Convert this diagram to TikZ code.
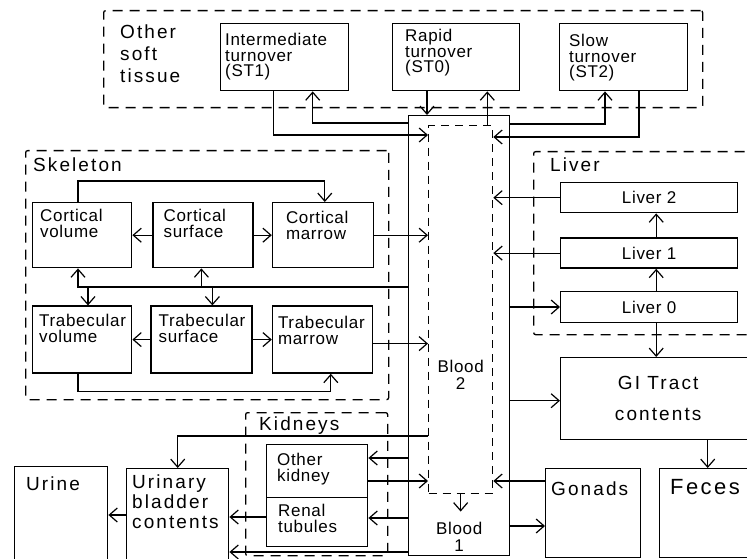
\documentclass[tikz,border=0pt]{standalone}
\usepackage{fontspec}
\setmainfont{Liberation Sans}
\newfontfamily\widefont[LetterSpace=11]{Liberation Sans}
\newfontfamily\boxfont[LetterSpace=4]{Liberation Sans}
\usetikzlibrary{arrows.meta, positioning, calc}
\tikzset{
  % solid compartment box
  comp/.style={
    rectangle, draw, line width=1.4pt, anchor=north west,
    inner sep=0pt, font=\boxfont\fontsize{17}{15.5}\selectfont
  },
  % dashed outline round a group of compartments
  group/.style={
    rectangle, draw, line width=1.3pt, dash pattern=on 10pt off 7pt,
    rounded corners=2pt, anchor=north west, inner sep=0pt
  },
  % text in the top left corner of a box
  corner/.style={
    anchor=north west, inner sep=0pt, align=left,
    xshift=8pt, yshift=-8pt, font=\boxfont\fontsize{17}{15.5}\selectfont
  },
  % large titles
  title/.style={
    anchor=north west, inner sep=0pt, align=left,
    font=\widefont\fontsize{19}{22}\selectfont
  },
  % blood labels
  btext/.style={
    inner sep=0pt, align=center, font=\boxfont\fontsize{17}{17}\selectfont
  },
  % transfer between compartments
  flow/.style={
    -{Straight Barb[length=8pt, width=14pt, line width=1.2pt]}, line width=1.2pt
  }
}

\begin{document}
\begin{tikzpicture}[x=1pt, y=-1pt]
  \useasboundingbox (0,0) rectangle (747,559);
  \fill[white] (0,0) rectangle (747,559);
  \clip (0,0) rectangle (747,559);

  % ── Other soft tissue ──────────────────────────────────────────
  \node[group, minimum width=599, minimum height=97] (ost) at (103,10) {};
  \node[title] (ostlbl) at ($(ost.north west)+(17,15)$) {Other\\soft\\tissue};
  \node[comp, minimum width=128, minimum height=67,
        label={[corner, xshift=-3pt, yshift=-2pt]north west:{Intermediate\\turnover\\(ST1)}}]
        (st1) at (220,23) {};
  \node[comp, minimum width=127, minimum height=67,
        label={[corner, xshift=5pt, yshift=2pt]north west:{Rapid\\turnover\\(ST0)}}]
        (st0) at (392,23) {};
  \node[comp, minimum width=128, minimum height=67,
        label={[corner, xshift=2pt, yshift=-3pt]north west:{Slow\\turnover\\(ST2)}}]
        (st2) at (559,23) {};

  % ── Blood ──────────────────────────────────────────────────────
  \node[comp, minimum width=101, minimum height=440] (blood) at (408,115) {};
  \node[comp, line width=1.3pt, dash pattern=on 8pt off 6pt, minimum width=64, minimum height=368]
        (b2) at (428,125) {};
  \node[btext] (b2lbl) at ($(b2.center)+(0,65)$) {Blood\\2};
  \node[btext] (b1lbl) at ($(blood.south)+(0,-20)$) {Blood\\1};

  % ── Skeleton ───────────────────────────────────────────────────
  \node[group, minimum width=363, minimum height=249] (skel) at (25,150) {};
  \node[title] (skellbl) at ($(skel.north west)+(8,8)$) {Skeleton};
  \node[comp, minimum width=99, minimum height=65,
        label={[corner, yshift=1pt]north west:{Cortical\\volume}}] (cv) at (32,202) {};
  \node[comp, minimum width=100, minimum height=65, right=20pt of cv,
        label={[corner, xshift=3pt, yshift=1pt]north west:{Cortical\\surface}}] (cs) {};
  \node[comp, minimum width=101, minimum height=65, right=18pt of cs,
        label={[corner, xshift=6pt, yshift=-1pt]north west:{Cortical\\marrow}}] (cm) {};
  \node[comp, minimum width=99, minimum height=67, below=37pt of cv,
        label={[corner, xshift=-1pt, yshift=-1pt]north west:{Trabecular\\volume}}] (tv) {};
  \node[comp, minimum width=101, minimum height=67, right=18pt of tv,
        label={[corner, yshift=-1pt]north west:{Trabecular\\surface}}] (ts) {};
  \node[comp, minimum width=100, minimum height=67, right=19pt of ts,
        label={[corner, xshift=-2pt, yshift=-3pt]north west:{Trabecular\\marrow}}] (tm) {};

  % ── Liver ──────────────────────────────────────────────────────
  \node[group, minimum width=230, minimum height=183] (liver) at (533,151) {};
  \node[title] (liverlbl) at ($(liver.north west)+(17,7)$) {Liver};
  \node[comp, minimum width=177, minimum height=30] (l2) at (560,182) {Liver 2};
  \node[comp, minimum width=177, minimum height=30, below=24pt of l2] (l1) {Liver 1};
  \node[comp, minimum width=177, minimum height=31, below=22pt of l1] (l0) {Liver 0};

  % ── GI tract, gonads, feces ────────────────────────────────────
  \node[comp, minimum width=195, minimum height=82, align=center,
        font=\widefont\fontsize{19}{31}\selectfont] (gi) at (560,357) {GI Tract\\contents};
  \node[comp, minimum width=95, minimum height=89,
        label={[title, xshift=6pt, yshift=-14pt]north west:Gonads}] (gonads) at (545,468) {};
  \node[comp, minimum width=96, minimum height=89,
        label={[title, font=\widefont\fontsize{22}{24}\selectfont, xshift=11pt, yshift=-11pt]north west:Feces}]
        (feces) at (659,468) {};

  % ── Kidneys, bladder, urine ────────────────────────────────────
  \node[group, minimum width=142, minimum height=143] (kid) at (245,412) {};
  \node[title] (kidlbl) at ($(kid.north west)+(14,5)$) {Kidneys};
  \node[comp, minimum width=101, minimum height=53,
        label={[corner, xshift=3pt, yshift=-1pt]north west:{Other\\kidney}}] (ok) at (266,444) {};
  \node[comp, minimum width=101, minimum height=49,
        label={[corner, xshift=4pt, yshift=1pt]north west:{Renal\\tubules}}] (rt) at (266,497) {};
  \node[comp, minimum width=102, minimum height=95,
        label={[title, font=\widefont\fontsize{19}{20}\selectfont, xshift=6pt, yshift=-7pt]north west:{Urinary\\bladder\\contents}}]
        (ub) at (126,468) {};
  \node[comp, minimum width=93, minimum height=97,
        label={[title, xshift=12pt, yshift=-11pt]north west:Urine}] (urine) at (14,466) {};

  % ── Soft tissue <-> blood ──────────────────────────────────────
  \draw[flow] ([xshift=-11pt]st1.south) |- ([yshift=-10pt]b2.north west);
  \draw[flow] ([yshift=-8pt]blood.north west) -| ([xshift=28pt]st1.south);
  \draw[flow] ([xshift=35pt]st0.south west) coordinate (st0out) -- (st0out |- blood.north);
  \draw[flow] ([xshift=-6pt]b2.north east) coordinate (b2up) -- (b2up |- st0.south);
  \draw[flow] ([yshift=-9pt]blood.north east) -| ([xshift=46pt]st2.south west);
  \draw[flow] ([xshift=80pt]st2.south west) |- ([yshift=-12pt]b2.north east);

  % ── Skeleton ───────────────────────────────────────────────────
  \draw[flow] ([xshift=46pt]cv.north west) -- ++(0,-21) -| ([xshift=53pt]cm.north west);
  \draw[flow] (cs.west) -- (cv.east);
  \draw[flow] (cs.east) -- (cm.west);
  \draw[flow] (cm.east) -- (cm.east -| b2.west);
  \draw[flow] (ts.west) -- (tv.east);
  \draw[flow] (ts.east) -- (tm.west);
  \draw[flow] ([yshift=-4pt]tm.east) coordinate (tmout) -- (tmout -| b2.west);
  \draw[flow] ([xshift=46pt]tv.south west) -- ++(0,18) -| ([xshift=59pt]tm.south west);
  % blood to volumes and surfaces
  \path ($(cv.south)!.5!(tv.north)$) coordinate (skin);
  \draw[flow] (blood.west |- skin) -| ([xshift=46pt]cv.south west);
  \draw[flow] (blood.west |- skin) -| ([xshift=56pt]tv.north west);
  \draw[flow] (blood.west |- skin) -| ([xshift=49pt]cs.south west);
  \draw[flow] (blood.west |- skin) -| ([xshift=62pt]ts.north west);

  % ── Liver ──────────────────────────────────────────────────────
  \draw[flow] (l2.west) -- (l2.west -| b2.east);
  \draw[flow] (l1.west) -- (l1.west -| b2.east);
  \draw[flow] (blood.east |- l0.west) -- (l0.west);
  \draw[flow] ([xshift=7pt]l0.north) -- ([xshift=7pt]l1.south);
  \draw[flow] ([xshift=7pt]l1.north) -- ([xshift=7pt]l2.south);
  \draw[flow] ([xshift=7pt]l0.south) coordinate (l0out) -- (l0out |- gi.north);

  % ── GI tract, gonads ───────────────────────────────────────────
  \path ([yshift=-2pt]gi.west) coordinate (giin);
  \draw[flow] (blood.east |- giin) -- (giin);
  \draw[flow] (feces.north |- gi.south) -- (feces.north);
  \draw[flow] ([yshift=-13pt]gonads.north west) coordinate (gout) -- (gout -| b2.east);
  \path ([yshift=-58pt]gonads.north west) coordinate (gin);
  \draw[flow] (blood.east |- gin) -- (gin);

  % ── Kidneys and bladder ────────────────────────────────────────
  \path ([yshift=-14pt]ok.north east) coordinate (okin);
  \draw[flow] (blood.west |- okin) -- (okin);
  \draw[flow] ([yshift=-37pt]ok.north east) coordinate (okout) -- (okout -| b2.west);
  \path ([yshift=-21pt]rt.north east) coordinate (rtin);
  \draw[flow] (blood.west |- rtin) -- (rtin);
  \draw[flow] ([yshift=-20pt]rt.north west) coordinate (rtout) -- (rtout -| ub.east);
  \path ([yshift=-84pt]ub.north east) coordinate (ubin);
  \draw[flow] (blood.west |- ubin) -- (ubin);
  \draw[flow] ([yshift=-311pt]b2.north west) -| (ub.north);
  \draw[flow] ([yshift=-47pt]ub.north west) coordinate (ubout) -- (ubout -| urine.east);

  % blood 2 -> blood 1
  \draw[flow, shorten >=10pt] (b2.south) -- (b2.south |- b1lbl.north);
\end{tikzpicture}
\end{document}
